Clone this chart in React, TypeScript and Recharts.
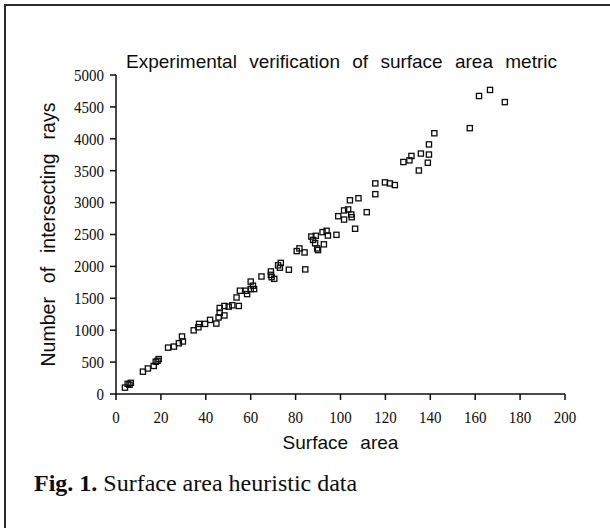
import { ScatterChart, Scatter, XAxis, YAxis, Label } from "recharts";

// surface area vs. number of intersecting rays
const surfaceArea = [
  4, 5.2, 6, 6.6, 12, 14.2, 16.8, 17.7, 18.5, 19, 23.2, 25.8, 28, 29.4, 29.8, 34.6, 36.7, 37, 39.7, 41.9,
  44.7, 45.7, 46.2, 46.2, 48.3, 48.3, 50.2, 51.8, 53.7, 54.7, 55.2, 57.8, 58.4, 60, 60, 61, 61.5, 64.8, 69, 69,
  69.3, 70.5, 72.2, 73.4, 73, 77, 80.5, 81.7, 84, 84.3, 87, 87.8, 89, 88.7, 89.6, 90, 92, 92.6, 93.8, 94.4,
  98.2, 99, 101.6, 101.6, 103.4, 104.2, 104.8, 105, 106.5, 108, 111.7, 115.5, 115.5, 119.8, 122, 124.2, 128,
  130.7, 131.6, 134.9, 135.8, 138.9, 139.4, 139.4, 141.8, 157.6, 161.7, 166.6, 173.2,
];
const intersectingRays = [
  100, 160, 145, 175, 350, 400, 440, 505, 520, 547, 727, 743, 796, 902, 823, 998, 1046, 1099, 1099, 1162,
  1104, 1200, 1274, 1348, 1231, 1380, 1369, 1391, 1513, 1380, 1619, 1619, 1566, 1762, 1645, 1698, 1645, 1842, 1921, 1868,
  1831, 1805, 2017, 2054, 1980, 1948, 2240, 2282, 2219, 1953, 2468, 2415, 2479, 2362, 2282, 2256, 2537, 2346, 2558, 2484,
  2495, 2787, 2877, 2734, 2893, 3036, 2813, 2771, 2590, 3068, 2850, 3132, 3301, 3317, 3301, 3275, 3636,
  3662, 3731, 3503, 3769, 3625, 3753, 3912, 4087, 4167, 4671, 4766, 4575,
];
const xTicks = [0, 20, 40, 60, 80, 100, 120, 140, 160, 180, 200];
const yTicks = [0, 500, 1000, 1500, 2000, 2500, 3000, 3500, 4000, 4500, 5000];

const points = surfaceArea.map((x, i) => ({ x, y: intersectingRays[i] }));

const INK = "#0d0d0d";
const SANS = "'Liberation Sans', Arial, sans-serif";
const SERIF = "'Liberation Serif', 'Times New Roman', serif";

// tall narrow serif digits like the scan
function SerifTick(props: any) {
  const { x, y, payload, textAnchor, orientation } = props;
  const base = orientation === "bottom" ? 15.2 : 5.1;
  return (
    <g transform={`translate(${x},${y}) scale(1,1.15)`}>
      <text x={0} y={base} textAnchor={textAnchor} fontFamily={SERIF} fontSize={15} fill={INK}>
        {payload.value}
      </text>
    </g>
  );
}

function Square(props: any) {
  const { cx, cy } = props;
  if (cx == null || cy == null) return null;
  return <rect x={cx - 2.6} y={cy - 2.6} width={5.2} height={5.2} fill="none" stroke={INK} strokeWidth={1.3} />;
}

export default function App() {
  return (
    <div style={{ position: "absolute", left: 0, top: 0, width: 610, height: 528, background: "#fff", overflow: "hidden" }}>
      <div style={{ position: "absolute", left: 5, top: 4, width: 605, height: 1.5, background: "#2a2a2a" }} />
      <div style={{ position: "absolute", left: 4, top: 4, width: 1.5, height: 524, background: "#2a2a2a" }} />

      <div
        style={{
          position: "absolute",
          left: 0,
          width: 683,
          top: 52,
          textAlign: "center",
          fontFamily: SANS,
          fontSize: 19,
          lineHeight: "19px",
          wordSpacing: 7,
          color: INK,
          whiteSpace: "nowrap",
        }}
      >
        Experimental verification of surface area metric
      </div>

      <ScatterChart width={610} height={528} margin={{ top: 75, right: 45, bottom: 94, left: 0 }}>
        <XAxis
          type="number"
          dataKey="x"
          domain={[0, 200]}
          ticks={xTicks}
          interval={0}
          height={40}
          tickSize={6}
          tickMargin={6}
          stroke={INK}
          strokeWidth={1.5}
          tick={<SerifTick />}
        >
          <Label
            value="Surface area"
            position="bottom"
            offset={2}
            style={{ fontFamily: SANS, fontSize: 19, fill: INK, wordSpacing: 7 }}
          />
        </XAxis>
        <YAxis
          type="number"
          dataKey="y"
          domain={[0, 5000]}
          ticks={yTicks}
          interval={0}
          width={116}
          tickSize={6}
          tickMargin={6}
          stroke={INK}
          strokeWidth={1.5}
          tick={<SerifTick />}
        >
          <Label
            value="Number of intersecting rays"
            angle={-90}
            position="center"
            dx={-10}
            style={{ fontFamily: SANS, fontSize: 19.5, fill: INK, wordSpacing: 8.5 }}
          />
        </YAxis>
        <Scatter data={points} shape={<Square />} isAnimationActive={false} />
      </ScatterChart>

      <div
        style={{
          position: "absolute",
          left: 34,
          top: 471,
          fontFamily: SERIF,
          fontSize: 24,
          lineHeight: "24px",
          color: INK,
          whiteSpace: "nowrap",
        }}
      >
        <b>Fig. 1.</b> Surface area heuristic data
      </div>
    </div>
  );
}
